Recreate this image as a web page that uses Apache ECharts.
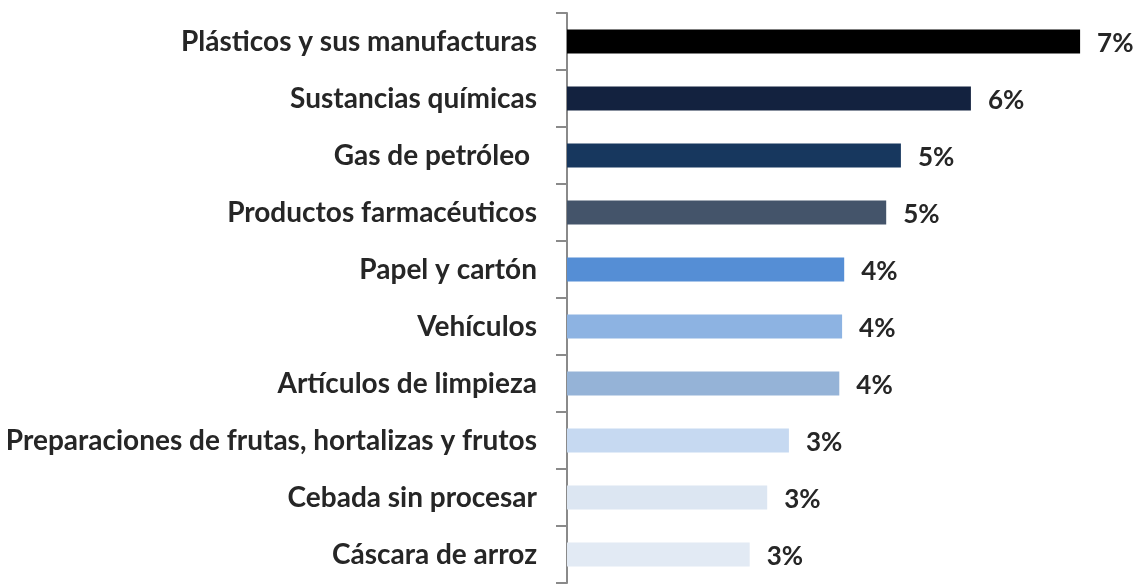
<!DOCTYPE html>
<html>
<head>
<meta charset="utf-8">
<script src="https://cdn.jsdelivr.net/npm/echarts@6/dist/echarts.min.js"></script>
<style>
  html, body { margin: 0; padding: 0; background: #ffffff; }
  #chart { width: 1144px; height: 585px; }
</style>
</head>
<body>
<div id="chart"></div>
<script>
// Export products and their share of the total (%)
const categories = [
  'Plásticos y sus manufacturas',
  'Sustancias químicas',
  'Gas de petróleo ',
  'Productos farmacéuticos',
  'Papel y cartón',
  'Vehículos',
  'Artículos de limpieza',
  'Preparaciones de frutas, hortalizas y frutos',
  'Cebada sin procesar',
  'Cáscara de arroz'
];
const shares = [7.33, 5.77, 4.77, 4.56, 3.96, 3.93, 3.89, 3.17, 2.86, 2.61];
const barColors = [
  '#000000', '#13223f', '#17375e', '#44546a', '#558ed5',
  '#8db3e2', '#95b3d7', '#c6d9f1', '#dce6f2', '#e2eaf4'
];

const chart = echarts.init(document.getElementById('chart'));
chart.setOption({
  animation: false,
  grid: { left: 567, right: 17, top: 13, bottom: 2, containLabel: false },
  xAxis: {
    type: 'value',
    min: 0,
    max: 8,
    show: false
  },
  yAxis: {
    type: 'category',
    inverse: true,
    data: categories,
    axisLine: { show: true, lineStyle: { color: '#8a8a8a', width: 2 } },
    axisTick: { show: true, length: 11, lineStyle: { color: '#8a8a8a', width: 2 } },
    axisLabel: {
      margin: 30,
      fontFamily: 'Lato',
      fontWeight: 'bold',
      fontSize: 28,
      color: '#262626'
    },
    splitLine: { show: false }
  },
  series: [{
    type: 'bar',
    barWidth: 24,
    data: shares.map((v, i) => ({ value: v, itemStyle: { color: barColors[i] } })),
    label: {
      show: true,
      position: 'right',
      distance: 17,
      formatter: p => Math.round(p.value) + '%',
      fontFamily: 'Lato',
      fontWeight: 'bold',
      fontSize: 26,
      color: '#262626',
      offset: [0, 2]
    }
  }]
});
</script>
</body>
</html>
